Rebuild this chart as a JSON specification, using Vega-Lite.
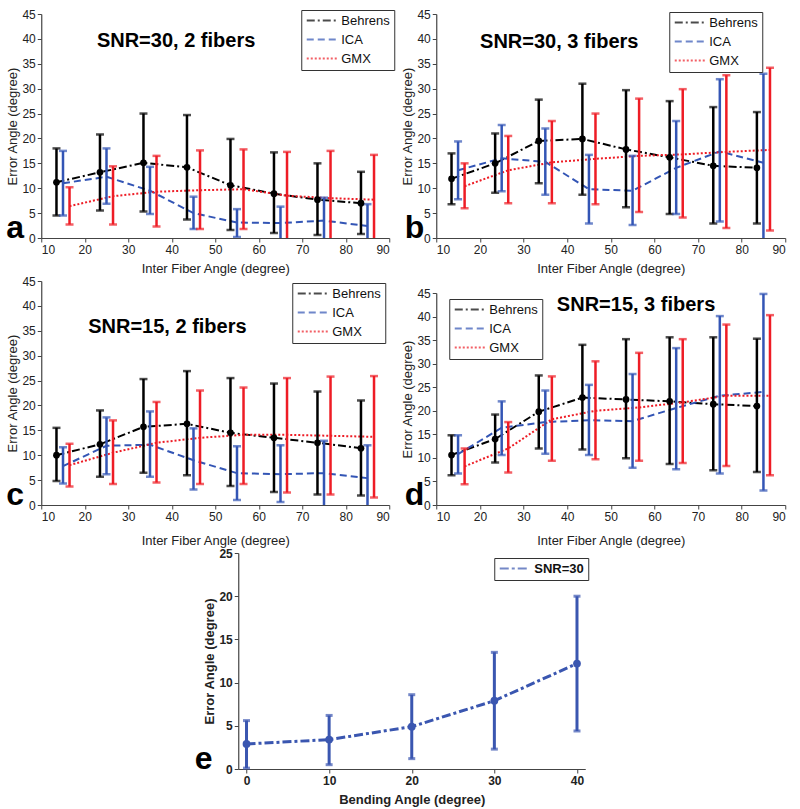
{
"$schema": "https://vega.github.io/schema/vega-lite/v6.json",
"background": "white",
"padding": {"left": 6, "top": 8, "right": 5, "bottom": 2},
"config": {
  "view": {"stroke": null},
  "font": "Liberation Sans",
  "axis": {"labelFont": "Liberation Sans", "labelFontSize": 12, "labelColor": "#222222", "titleFont": "Liberation Sans", "titleFontSize": 13, "titleFontWeight": "normal", "titleColor": "#222222", "domainColor": "#444444", "tickColor": "#444444", "tickSize": 4, "grid": false, "labelPadding": 2, "domainWidth": 1.2, "labelOverlap": false},
  "axisX": {"titlePadding": 7},
  "axisY": {"titlePadding": 2},
  "legend": {"labelFont": "Liberation Sans", "labelFontSize": 13, "labelColor": "#111111", "strokeColor": "#333333", "fillColor": "white", "padding": 4, "symbolType": "M-1,0H5", "symbolSize": 100, "symbolStrokeWidth": 2, "rowPadding": 5, "labelOffset": 23, "cornerRadius": 0}
},
"datasets": {
  "d": [
    {"p":"a","m":"Behrens","x":13.5,"y":11.2,"lo":4.5,"hi":18.0},
    {"p":"a","m":"Behrens","x":23.5,"y":13.2,"lo":5.5,"hi":20.8},
    {"p":"a","m":"Behrens","x":33.5,"y":15.1,"lo":5.3,"hi":25.0},
    {"p":"a","m":"Behrens","x":43.5,"y":14.2,"lo":3.7,"hi":24.7},
    {"p":"a","m":"Behrens","x":53.5,"y":10.6,"lo":1.6,"hi":19.9},
    {"p":"a","m":"Behrens","x":63.5,"y":8.9,"lo":1.0,"hi":17.2},
    {"p":"a","m":"Behrens","x":73.5,"y":7.7,"lo":0.6,"hi":15.0},
    {"p":"a","m":"Behrens","x":83.5,"y":7.0,"lo":0.8,"hi":13.3},
    {"p":"a","m":"ICA","x":15,"y":11.0,"lo":4.5,"hi":17.5},
    {"p":"a","m":"ICA","x":25,"y":12.3,"lo":6.9,"hi":18.0},
    {"p":"a","m":"ICA","x":35,"y":9.5,"lo":4.8,"hi":14.3},
    {"p":"a","m":"ICA","x":45,"y":5.0,"lo":1.8,"hi":8.3},
    {"p":"a","m":"ICA","x":55,"y":3.1,"lo":0.2,"hi":5.8},
    {"p":"a","m":"ICA","x":65,"y":3.0,"lo":-0.5,"hi":6.3},
    {"p":"a","m":"ICA","x":75,"y":3.5,"lo":-1.2,"hi":8.1},
    {"p":"a","m":"ICA","x":85,"y":2.4,"lo":-2.0,"hi":6.8},
    {"p":"a","m":"GMX","x":16.5,"y":6.4,"lo":2.7,"hi":10.2},
    {"p":"a","m":"GMX","x":26.5,"y":8.4,"lo":2.7,"hi":14.4},
    {"p":"a","m":"GMX","x":36.5,"y":9.3,"lo":2.3,"hi":16.5},
    {"p":"a","m":"GMX","x":46.5,"y":9.6,"lo":1.8,"hi":17.6},
    {"p":"a","m":"GMX","x":56.5,"y":9.8,"lo":1.8,"hi":17.8},
    {"p":"a","m":"GMX","x":66.5,"y":8.5,"lo":-0.3,"hi":17.3},
    {"p":"a","m":"GMX","x":76.5,"y":8.0,"lo":-1.5,"hi":17.5},
    {"p":"a","m":"GMX","x":86.5,"y":7.7,"lo":-1.3,"hi":16.7},

    {"p":"b","m":"Behrens","x":13.5,"y":11.9,"lo":6.8,"hi":17.0},
    {"p":"b","m":"Behrens","x":23.5,"y":15.0,"lo":9.1,"hi":21.0},
    {"p":"b","m":"Behrens","x":33.5,"y":19.5,"lo":11.0,"hi":27.8},
    {"p":"b","m":"Behrens","x":43.5,"y":19.9,"lo":8.7,"hi":31.0},
    {"p":"b","m":"Behrens","x":53.5,"y":17.8,"lo":6.2,"hi":29.7},
    {"p":"b","m":"Behrens","x":63.5,"y":16.2,"lo":4.8,"hi":27.5},
    {"p":"b","m":"Behrens","x":73.5,"y":14.5,"lo":2.9,"hi":26.3},
    {"p":"b","m":"Behrens","x":83.5,"y":14.1,"lo":2.9,"hi":25.3},
    {"p":"b","m":"ICA","x":15,"y":13.6,"lo":7.8,"hi":19.4},
    {"p":"b","m":"ICA","x":25,"y":16.0,"lo":9.4,"hi":22.7},
    {"p":"b","m":"ICA","x":35,"y":15.3,"lo":8.7,"hi":22.0},
    {"p":"b","m":"ICA","x":45,"y":9.8,"lo":2.9,"hi":16.7},
    {"p":"b","m":"ICA","x":55,"y":9.5,"lo":2.6,"hi":16.5},
    {"p":"b","m":"ICA","x":65,"y":14.1,"lo":4.8,"hi":23.5},
    {"p":"b","m":"ICA","x":75,"y":17.4,"lo":3.3,"hi":31.9},
    {"p":"b","m":"ICA","x":85,"y":15.1,"lo":-1.0,"hi":33.0},
    {"p":"b","m":"GMX","x":16.5,"y":10.4,"lo":6.0,"hi":15.0},
    {"p":"b","m":"GMX","x":26.5,"y":13.6,"lo":7.0,"hi":20.5},
    {"p":"b","m":"GMX","x":36.5,"y":15.2,"lo":7.0,"hi":23.5},
    {"p":"b","m":"GMX","x":46.5,"y":15.9,"lo":6.8,"hi":25.0},
    {"p":"b","m":"GMX","x":56.5,"y":16.5,"lo":5.2,"hi":28.0},
    {"p":"b","m":"GMX","x":66.5,"y":16.8,"lo":4.1,"hi":29.9},
    {"p":"b","m":"GMX","x":76.5,"y":17.3,"lo":2.0,"hi":32.7},
    {"p":"b","m":"GMX","x":86.5,"y":17.7,"lo":1.5,"hi":34.2},

    {"p":"c","m":"Behrens","x":13.5,"y":10.0,"lo":4.8,"hi":15.5},
    {"p":"c","m":"Behrens","x":23.5,"y":12.2,"lo":5.7,"hi":19.0},
    {"p":"c","m":"Behrens","x":33.5,"y":15.7,"lo":6.5,"hi":25.3},
    {"p":"c","m":"Behrens","x":43.5,"y":16.3,"lo":6.0,"hi":26.9},
    {"p":"c","m":"Behrens","x":53.5,"y":14.5,"lo":3.8,"hi":25.5},
    {"p":"c","m":"Behrens","x":63.5,"y":13.5,"lo":2.6,"hi":24.4},
    {"p":"c","m":"Behrens","x":73.5,"y":12.5,"lo":2.1,"hi":22.8},
    {"p":"c","m":"Behrens","x":83.5,"y":11.4,"lo":1.9,"hi":21.0},
    {"p":"c","m":"ICA","x":15,"y":7.8,"lo":4.3,"hi":11.6},
    {"p":"c","m":"ICA","x":25,"y":11.9,"lo":6.2,"hi":17.6},
    {"p":"c","m":"ICA","x":35,"y":12.1,"lo":5.7,"hi":18.8},
    {"p":"c","m":"ICA","x":45,"y":9.0,"lo":3.1,"hi":15.4},
    {"p":"c","m":"ICA","x":55,"y":6.4,"lo":1.0,"hi":11.8},
    {"p":"c","m":"ICA","x":65,"y":6.2,"lo":0.6,"hi":12.0},
    {"p":"c","m":"ICA","x":75,"y":6.4,"lo":-1.0,"hi":12.9},
    {"p":"c","m":"ICA","x":85,"y":5.4,"lo":-1.0,"hi":12.0},
    {"p":"c","m":"GMX","x":16.5,"y":8.0,"lo":3.7,"hi":12.3},
    {"p":"c","m":"GMX","x":26.5,"y":10.5,"lo":4.2,"hi":17.0},
    {"p":"c","m":"GMX","x":36.5,"y":12.5,"lo":4.5,"hi":20.7},
    {"p":"c","m":"GMX","x":46.5,"y":13.5,"lo":4.2,"hi":23.0},
    {"p":"c","m":"GMX","x":56.5,"y":14.1,"lo":4.2,"hi":23.6},
    {"p":"c","m":"GMX","x":66.5,"y":14.1,"lo":2.5,"hi":25.5},
    {"p":"c","m":"GMX","x":76.5,"y":13.9,"lo":2.1,"hi":25.8},
    {"p":"c","m":"GMX","x":86.5,"y":13.7,"lo":1.5,"hi":25.9},

    {"p":"d","m":"Behrens","x":13.5,"y":10.6,"lo":6.3,"hi":14.8},
    {"p":"d","m":"Behrens","x":23.5,"y":14.0,"lo":9.0,"hi":19.2},
    {"p":"d","m":"Behrens","x":33.5,"y":19.8,"lo":12.0,"hi":27.5},
    {"p":"d","m":"Behrens","x":43.5,"y":22.8,"lo":11.8,"hi":34.0},
    {"p":"d","m":"Behrens","x":53.5,"y":22.4,"lo":9.9,"hi":35.2},
    {"p":"d","m":"Behrens","x":63.5,"y":22.0,"lo":8.7,"hi":35.6},
    {"p":"d","m":"Behrens","x":73.5,"y":21.4,"lo":7.4,"hi":35.6},
    {"p":"d","m":"Behrens","x":83.5,"y":21.0,"lo":7.0,"hi":35.3},
    {"p":"d","m":"ICA","x":15,"y":10.8,"lo":6.7,"hi":14.8},
    {"p":"d","m":"ICA","x":25,"y":16.4,"lo":10.6,"hi":22.0},
    {"p":"d","m":"ICA","x":35,"y":17.6,"lo":10.9,"hi":24.3},
    {"p":"d","m":"ICA","x":45,"y":18.0,"lo":10.6,"hi":25.5},
    {"p":"d","m":"ICA","x":55,"y":17.8,"lo":7.9,"hi":27.8},
    {"p":"d","m":"ICA","x":65,"y":20.6,"lo":7.6,"hi":33.3},
    {"p":"d","m":"ICA","x":75,"y":23.2,"lo":6.7,"hi":40.1},
    {"p":"d","m":"ICA","x":85,"y":24.0,"lo":3.1,"hi":44.8},
    {"p":"d","m":"GMX","x":16.5,"y":8.2,"lo":4.4,"hi":12.0},
    {"p":"d","m":"GMX","x":26.5,"y":12.0,"lo":6.9,"hi":17.6},
    {"p":"d","m":"GMX","x":36.5,"y":18.2,"lo":9.4,"hi":27.3},
    {"p":"d","m":"GMX","x":46.5,"y":20.0,"lo":9.7,"hi":30.5},
    {"p":"d","m":"GMX","x":56.5,"y":20.7,"lo":9.4,"hi":32.3},
    {"p":"d","m":"GMX","x":66.5,"y":21.8,"lo":8.9,"hi":35.2},
    {"p":"d","m":"GMX","x":76.5,"y":23.2,"lo":8.3,"hi":38.3},
    {"p":"d","m":"GMX","x":86.5,"y":23.2,"lo":6.3,"hi":40.3},

    {"p":"e","m":"SNR=30","x":0,"y":2.9,"lo":0.1,"hi":5.6},
    {"p":"e","m":"SNR=30","x":10,"y":3.4,"lo":0.5,"hi":6.2},
    {"p":"e","m":"SNR=30","x":20,"y":4.9,"lo":1.2,"hi":8.6},
    {"p":"e","m":"SNR=30","x":30,"y":7.9,"lo":2.3,"hi":13.5},
    {"p":"e","m":"SNR=30","x":40,"y":12.2,"lo":4.4,"hi":20.0}
  ]
},
"vconcat": [
  {"hconcat": [
      {"width": 348, "height": 224,
       "layer": [
        {"data":{"name":"d"},"transform":[{"filter":"datum.p==='a'"}],"mark":{"type":"line","strokeWidth":2},
         "encoding":{"x":{"field":"x","type":"quantitative","scale":{"domain":[10,90],"nice":false,"zero":false},"axis":{"values":[10,20,30,40,50,60,70,80,90],"title":"Inter Fiber Angle (degree)"}},
          "y":{"field":"y","type":"quantitative","scale":{"domain":[0,45],"nice":false},"axis":{"values":[0,5,10,15,20,25,30,35,40,45],"tickCount":10,"labelOverlap":false,"title":"Error Angle (degree)"}},
          "color":{"field":"m","type":"nominal","scale":{"domain":["Behrens","ICA","GMX"],"range":["#000000","#3355b5","#ee1c25"]},"legend":{"title":null,"orient":"none","legendX":260,"legendY":-4}},
          "strokeDash":{"field":"m","type":"nominal","scale":{"domain":["Behrens","ICA","GMX"],"range":[[8,3,2,3],[7,4],[2,2]]},"legend":{"title":null,"orient":"none","legendX":260,"legendY":-4}}}},
        {"data":{"name":"d"},"transform":[{"filter":"datum.p==='a'"}],"mark":{"type":"rule","strokeWidth":2.5,"clip":true},
         "encoding":{"x":{"field":"x","type":"quantitative","axis":{"values":[10,20,30,40,50,60,70,80,90],"title":"Inter Fiber Angle (degree)"}},"y":{"field":"lo","type":"quantitative","axis":{"values":[0,5,10,15,20,25,30,35,40,45],"tickCount":10,"labelOverlap":false,"title":"Error Angle (degree)"}},"y2":{"field":"hi"},"color":{"field":"m","type":"nominal"}}},
        {"data":{"name":"d"},"transform":[{"filter":"datum.p==='a'"}],"mark":{"type":"tick","orient":"horizontal","size":8,"thickness":2.5},
         "encoding":{"x":{"field":"x","type":"quantitative","axis":{"values":[10,20,30,40,50,60,70,80,90],"title":"Inter Fiber Angle (degree)"}},"y":{"field":"hi","type":"quantitative","axis":{"values":[0,5,10,15,20,25,30,35,40,45],"tickCount":10,"labelOverlap":false,"title":"Error Angle (degree)"}},"color":{"field":"m","type":"nominal"}}},
        {"data":{"name":"d"},"transform":[{"filter":"datum.p==='a'"}],"mark":{"type":"tick","orient":"horizontal","size":8,"thickness":2.5,"clip":true},
         "encoding":{"x":{"field":"x","type":"quantitative","axis":{"values":[10,20,30,40,50,60,70,80,90],"title":"Inter Fiber Angle (degree)"}},"y":{"field":"lo","type":"quantitative","axis":{"values":[0,5,10,15,20,25,30,35,40,45],"tickCount":10,"labelOverlap":false,"title":"Error Angle (degree)"}},"color":{"field":"m","type":"nominal"}}},
        {"data":{"name":"d"},"transform":[{"filter":"datum.p==='a' && datum.m==='Behrens'"}],"mark":{"type":"point","filled":true,"size":45,"opacity":1},
         "encoding":{"x":{"field":"x","type":"quantitative","axis":{"values":[10,20,30,40,50,60,70,80,90],"title":"Inter Fiber Angle (degree)"}},"y":{"field":"y","type":"quantitative","axis":{"values":[0,5,10,15,20,25,30,35,40,45],"tickCount":10,"labelOverlap":false,"title":"Error Angle (degree)"}},"color":{"field":"m","type":"nominal"}}},
        {"data":{"values":[{}]},"mark":{"type":"text","text":"SNR=30, 2 fibers","fontSize":20,"fontWeight":"bold","color":"#000000"},
         "encoding":{"x":{"datum":41,"type":"quantitative","axis":{"values":[10,20,30,40,50,60,70,80,90],"title":"Inter Fiber Angle (degree)"}},"y":{"datum":39.6,"type":"quantitative","axis":{"values":[0,5,10,15,20,25,30,35,40,45],"tickCount":10,"labelOverlap":false,"title":"Error Angle (degree)"}}}},
        {"data":{"values":[{}]},"mark":{"type":"text","text":"a","fontSize":32,"fontWeight":"bold","baseline":"alphabetic","align":"center","color":"#000000"},
         "encoding":{"x":{"datum":4,"type":"quantitative","axis":{"values":[10,20,30,40,50,60,70,80,90],"title":"Inter Fiber Angle (degree)"}},"y":{"datum":0,"type":"quantitative","axis":{"values":[0,5,10,15,20,25,30,35,40,45],"tickCount":10,"labelOverlap":false,"title":"Error Angle (degree)"}}}}
       ]},
      {"width": 349, "height": 224,
       "layer": [
        {"data":{"name":"d"},"transform":[{"filter":"datum.p==='b'"}],"mark":{"type":"line","strokeWidth":2},
         "encoding":{"x":{"field":"x","type":"quantitative","scale":{"domain":[10,90],"nice":false,"zero":false},"axis":{"values":[10,20,30,40,50,60,70,80,90],"title":"Inter Fiber Angle (degree)"}},
          "y":{"field":"y","type":"quantitative","scale":{"domain":[0,45],"nice":false},"axis":{"values":[0,5,10,15,20,25,30,35,40,45],"tickCount":10,"labelOverlap":false,"title":"Error Angle (degree)"}},
          "color":{"field":"m","type":"nominal","scale":{"domain":["Behrens","ICA","GMX"],"range":["#000000","#3355b5","#ee1c25"]},"legend":{"title":null,"orient":"none","legendX":233,"legendY":-2}},
          "strokeDash":{"field":"m","type":"nominal","scale":{"domain":["Behrens","ICA","GMX"],"range":[[8,3,2,3],[7,4],[2,2]]},"legend":{"title":null,"orient":"none","legendX":233,"legendY":-2}}}},
        {"data":{"name":"d"},"transform":[{"filter":"datum.p==='b'"}],"mark":{"type":"rule","strokeWidth":2.5,"clip":true},
         "encoding":{"x":{"field":"x","type":"quantitative","axis":{"values":[10,20,30,40,50,60,70,80,90],"title":"Inter Fiber Angle (degree)"}},"y":{"field":"lo","type":"quantitative","axis":{"values":[0,5,10,15,20,25,30,35,40,45],"tickCount":10,"labelOverlap":false,"title":"Error Angle (degree)"}},"y2":{"field":"hi"},"color":{"field":"m","type":"nominal"}}},
        {"data":{"name":"d"},"transform":[{"filter":"datum.p==='b'"}],"mark":{"type":"tick","orient":"horizontal","size":8,"thickness":2.5},
         "encoding":{"x":{"field":"x","type":"quantitative","axis":{"values":[10,20,30,40,50,60,70,80,90],"title":"Inter Fiber Angle (degree)"}},"y":{"field":"hi","type":"quantitative","axis":{"values":[0,5,10,15,20,25,30,35,40,45],"tickCount":10,"labelOverlap":false,"title":"Error Angle (degree)"}},"color":{"field":"m","type":"nominal"}}},
        {"data":{"name":"d"},"transform":[{"filter":"datum.p==='b'"}],"mark":{"type":"tick","orient":"horizontal","size":8,"thickness":2.5,"clip":true},
         "encoding":{"x":{"field":"x","type":"quantitative","axis":{"values":[10,20,30,40,50,60,70,80,90],"title":"Inter Fiber Angle (degree)"}},"y":{"field":"lo","type":"quantitative","axis":{"values":[0,5,10,15,20,25,30,35,40,45],"tickCount":10,"labelOverlap":false,"title":"Error Angle (degree)"}},"color":{"field":"m","type":"nominal"}}},
        {"data":{"name":"d"},"transform":[{"filter":"datum.p==='b' && datum.m==='Behrens'"}],"mark":{"type":"point","filled":true,"size":45,"opacity":1},
         "encoding":{"x":{"field":"x","type":"quantitative","axis":{"values":[10,20,30,40,50,60,70,80,90],"title":"Inter Fiber Angle (degree)"}},"y":{"field":"y","type":"quantitative","axis":{"values":[0,5,10,15,20,25,30,35,40,45],"tickCount":10,"labelOverlap":false,"title":"Error Angle (degree)"}},"color":{"field":"m","type":"nominal"}}},
        {"data":{"values":[{}]},"mark":{"type":"text","text":"SNR=30, 3 fibers","fontSize":20,"fontWeight":"bold","color":"#000000"},
         "encoding":{"x":{"datum":38.2,"type":"quantitative","axis":{"values":[10,20,30,40,50,60,70,80,90],"title":"Inter Fiber Angle (degree)"}},"y":{"datum":39.4,"type":"quantitative","axis":{"values":[0,5,10,15,20,25,30,35,40,45],"tickCount":10,"labelOverlap":false,"title":"Error Angle (degree)"}}}},
        {"data":{"values":[{}]},"mark":{"type":"text","text":"b","fontSize":32,"fontWeight":"bold","baseline":"alphabetic","align":"center","color":"#000000"},
         "encoding":{"x":{"datum":5,"type":"quantitative","axis":{"values":[10,20,30,40,50,60,70,80,90],"title":"Inter Fiber Angle (degree)"}},"y":{"datum":0,"type":"quantitative","axis":{"values":[0,5,10,15,20,25,30,35,40,45],"tickCount":10,"labelOverlap":false,"title":"Error Angle (degree)"}}}}
       ]}
  ], "spacing": 47, "bounds": "flush",
  "resolve": {"scale": {"color": "independent", "strokeDash": "independent"}, "legend": {"color": "independent", "strokeDash": "independent"}}},
  {"hconcat": [
      {"width": 348, "height": 224,
       "layer": [
        {"data":{"name":"d"},"transform":[{"filter":"datum.p==='c'"}],"mark":{"type":"line","strokeWidth":2},
         "encoding":{"x":{"field":"x","type":"quantitative","scale":{"domain":[10,90],"nice":false,"zero":false},"axis":{"values":[10,20,30,40,50,60,70,80,90],"title":"Inter Fiber Angle (degree)","titlePadding":12}},
          "y":{"field":"y","type":"quantitative","scale":{"domain":[0,45],"nice":false},"axis":{"values":[0,5,10,15,20,25,30,35,40,45],"tickCount":10,"labelOverlap":false,"title":"Error Angle (degree)"}},
          "color":{"field":"m","type":"nominal","scale":{"domain":["Behrens","ICA","GMX"],"range":["#000000","#3355b5","#ee1c25"]},"legend":{"title":null,"orient":"none","legendX":251,"legendY":2}},
          "strokeDash":{"field":"m","type":"nominal","scale":{"domain":["Behrens","ICA","GMX"],"range":[[8,3,2,3],[7,4],[2,2]]},"legend":{"title":null,"orient":"none","legendX":251,"legendY":2}}}},
        {"data":{"name":"d"},"transform":[{"filter":"datum.p==='c'"}],"mark":{"type":"rule","strokeWidth":2.5,"clip":true},
         "encoding":{"x":{"field":"x","type":"quantitative","axis":{"values":[10,20,30,40,50,60,70,80,90],"title":"Inter Fiber Angle (degree)","titlePadding":12}},"y":{"field":"lo","type":"quantitative","axis":{"values":[0,5,10,15,20,25,30,35,40,45],"tickCount":10,"labelOverlap":false,"title":"Error Angle (degree)"}},"y2":{"field":"hi"},"color":{"field":"m","type":"nominal"}}},
        {"data":{"name":"d"},"transform":[{"filter":"datum.p==='c'"}],"mark":{"type":"tick","orient":"horizontal","size":8,"thickness":2.5},
         "encoding":{"x":{"field":"x","type":"quantitative","axis":{"values":[10,20,30,40,50,60,70,80,90],"title":"Inter Fiber Angle (degree)","titlePadding":12}},"y":{"field":"hi","type":"quantitative","axis":{"values":[0,5,10,15,20,25,30,35,40,45],"tickCount":10,"labelOverlap":false,"title":"Error Angle (degree)"}},"color":{"field":"m","type":"nominal"}}},
        {"data":{"name":"d"},"transform":[{"filter":"datum.p==='c'"}],"mark":{"type":"tick","orient":"horizontal","size":8,"thickness":2.5,"clip":true},
         "encoding":{"x":{"field":"x","type":"quantitative","axis":{"values":[10,20,30,40,50,60,70,80,90],"title":"Inter Fiber Angle (degree)","titlePadding":12}},"y":{"field":"lo","type":"quantitative","axis":{"values":[0,5,10,15,20,25,30,35,40,45],"tickCount":10,"labelOverlap":false,"title":"Error Angle (degree)"}},"color":{"field":"m","type":"nominal"}}},
        {"data":{"name":"d"},"transform":[{"filter":"datum.p==='c' && datum.m==='Behrens'"}],"mark":{"type":"point","filled":true,"size":45,"opacity":1},
         "encoding":{"x":{"field":"x","type":"quantitative","axis":{"values":[10,20,30,40,50,60,70,80,90],"title":"Inter Fiber Angle (degree)","titlePadding":12}},"y":{"field":"y","type":"quantitative","axis":{"values":[0,5,10,15,20,25,30,35,40,45],"tickCount":10,"labelOverlap":false,"title":"Error Angle (degree)"}},"color":{"field":"m","type":"nominal"}}},
        {"data":{"values":[{}]},"mark":{"type":"text","text":"SNR=15, 2 fibers","fontSize":20,"fontWeight":"bold","color":"#000000"},
         "encoding":{"x":{"datum":39,"type":"quantitative","axis":{"values":[10,20,30,40,50,60,70,80,90],"title":"Inter Fiber Angle (degree)","titlePadding":12}},"y":{"datum":35.8,"type":"quantitative","axis":{"values":[0,5,10,15,20,25,30,35,40,45],"tickCount":10,"labelOverlap":false,"title":"Error Angle (degree)"}}}},
        {"data":{"values":[{}]},"mark":{"type":"text","text":"c","fontSize":32,"fontWeight":"bold","baseline":"alphabetic","align":"center","color":"#000000"},
         "encoding":{"x":{"datum":4,"type":"quantitative","axis":{"values":[10,20,30,40,50,60,70,80,90],"title":"Inter Fiber Angle (degree)","titlePadding":12}},"y":{"datum":0,"type":"quantitative","axis":{"values":[0,5,10,15,20,25,30,35,40,45],"tickCount":10,"labelOverlap":false,"title":"Error Angle (degree)"}}}}
       ]},
      {"width": 349, "height": 224,
       "layer": [
        {"data":{"name":"d"},"transform":[{"filter":"datum.p==='d'"}],"mark":{"type":"line","strokeWidth":2},
         "encoding":{"x":{"field":"x","type":"quantitative","scale":{"domain":[10,90],"nice":false,"zero":false},"axis":{"values":[10,20,30,40,50,60,70,80,90],"title":"Inter Fiber Angle (degree)","titlePadding":12}},
          "y":{"field":"y","type":"quantitative","scale":{"domain":[0,45],"nice":false,"range":[224,12]},"axis":{"values":[0,5,10,15,20,25,30,35,40,45],"tickCount":10,"labelOverlap":false,"title":"Error Angle (degree)"}},
          "color":{"field":"m","type":"nominal","scale":{"domain":["Behrens","ICA","GMX"],"range":["#000000","#3355b5","#ee1c25"]},"legend":{"title":null,"orient":"none","legendX":13,"legendY":18}},
          "strokeDash":{"field":"m","type":"nominal","scale":{"domain":["Behrens","ICA","GMX"],"range":[[8,3,2,3],[7,4],[2,2]]},"legend":{"title":null,"orient":"none","legendX":13,"legendY":18}}}},
        {"data":{"name":"d"},"transform":[{"filter":"datum.p==='d'"}],"mark":{"type":"rule","strokeWidth":2.5,"clip":true},
         "encoding":{"x":{"field":"x","type":"quantitative","axis":{"values":[10,20,30,40,50,60,70,80,90],"title":"Inter Fiber Angle (degree)","titlePadding":12}},"y":{"field":"lo","type":"quantitative","axis":{"values":[0,5,10,15,20,25,30,35,40,45],"tickCount":10,"labelOverlap":false,"title":"Error Angle (degree)"}},"y2":{"field":"hi"},"color":{"field":"m","type":"nominal"}}},
        {"data":{"name":"d"},"transform":[{"filter":"datum.p==='d'"}],"mark":{"type":"tick","orient":"horizontal","size":8,"thickness":2.5},
         "encoding":{"x":{"field":"x","type":"quantitative","axis":{"values":[10,20,30,40,50,60,70,80,90],"title":"Inter Fiber Angle (degree)","titlePadding":12}},"y":{"field":"hi","type":"quantitative","axis":{"values":[0,5,10,15,20,25,30,35,40,45],"tickCount":10,"labelOverlap":false,"title":"Error Angle (degree)"}},"color":{"field":"m","type":"nominal"}}},
        {"data":{"name":"d"},"transform":[{"filter":"datum.p==='d'"}],"mark":{"type":"tick","orient":"horizontal","size":8,"thickness":2.5,"clip":true},
         "encoding":{"x":{"field":"x","type":"quantitative","axis":{"values":[10,20,30,40,50,60,70,80,90],"title":"Inter Fiber Angle (degree)","titlePadding":12}},"y":{"field":"lo","type":"quantitative","axis":{"values":[0,5,10,15,20,25,30,35,40,45],"tickCount":10,"labelOverlap":false,"title":"Error Angle (degree)"}},"color":{"field":"m","type":"nominal"}}},
        {"data":{"name":"d"},"transform":[{"filter":"datum.p==='d' && datum.m==='Behrens'"}],"mark":{"type":"point","filled":true,"size":45,"opacity":1},
         "encoding":{"x":{"field":"x","type":"quantitative","axis":{"values":[10,20,30,40,50,60,70,80,90],"title":"Inter Fiber Angle (degree)","titlePadding":12}},"y":{"field":"y","type":"quantitative","axis":{"values":[0,5,10,15,20,25,30,35,40,45],"tickCount":10,"labelOverlap":false,"title":"Error Angle (degree)"}},"color":{"field":"m","type":"nominal"}}},
        {"data":{"values":[{}]},"mark":{"type":"text","text":"SNR=15, 3 fibers","fontSize":20,"fontWeight":"bold","color":"#000000"},
         "encoding":{"x":{"datum":55.8,"type":"quantitative","axis":{"values":[10,20,30,40,50,60,70,80,90],"title":"Inter Fiber Angle (degree)","titlePadding":12}},"y":{"datum":42.5,"type":"quantitative","axis":{"values":[0,5,10,15,20,25,30,35,40,45],"tickCount":10,"labelOverlap":false,"title":"Error Angle (degree)"}}}},
        {"data":{"values":[{}]},"mark":{"type":"text","text":"d","fontSize":32,"fontWeight":"bold","baseline":"alphabetic","align":"center","color":"#000000"},
         "encoding":{"x":{"datum":5,"type":"quantitative","axis":{"values":[10,20,30,40,50,60,70,80,90],"title":"Inter Fiber Angle (degree)","titlePadding":12}},"y":{"datum":0,"type":"quantitative","axis":{"values":[0,5,10,15,20,25,30,35,40,45],"tickCount":10,"labelOverlap":false,"title":"Error Angle (degree)"}}}}
       ]}
  ], "spacing": 47, "bounds": "flush",
  "resolve": {"scale": {"color": "independent", "strokeDash": "independent"}, "legend": {"color": "independent", "strokeDash": "independent"}}},
  {"width": 347, "height": 216,
   "layer": [
    {"data":{"name":"d"},"transform":[{"filter":"datum.p==='e'"}],"mark":{"type":"line","strokeWidth":3},
     "encoding":{"x":{"field":"x","type":"quantitative","scale":{"domain":[-1,41],"nice":false,"zero":false},"axis":{"values":[0,10,20,30,40],"title":"Bending Angle (degree)","labelFontWeight":"bold","titleFontWeight":"bold"}},
      "y":{"field":"y","type":"quantitative","scale":{"domain":[0,25],"nice":false},"axis":{"values":[0,5,10,15,20,25],"title":"Error Angle (degree)","labelFontWeight":"bold","titleFontWeight":"bold"}},
      "color":{"field":"m","type":"nominal","scale":{"domain":["SNR=30"],"range":["#3a56b0"]},"legend":{"title":null,"orient":"none","legendX":256,"legendY":5,"labelFontWeight":"bold"}},
      "strokeDash":{"field":"m","type":"nominal","scale":{"domain":["SNR=30"],"range":[[9,3,3,3]]},"legend":{"title":null,"orient":"none","legendX":256,"legendY":5,"labelFontWeight":"bold"}}}},
    {"data":{"name":"d"},"transform":[{"filter":"datum.p==='e'"}],"mark":{"type":"rule","strokeWidth":3,"clip":true},
     "encoding":{"x":{"field":"x","type":"quantitative","axis":{"values":[0,10,20,30,40],"title":"Bending Angle (degree)","labelFontWeight":"bold","titleFontWeight":"bold"}},"y":{"field":"lo","type":"quantitative","axis":{"values":[0,5,10,15,20,25],"title":"Error Angle (degree)","labelFontWeight":"bold","titleFontWeight":"bold"}},"y2":{"field":"hi"},"color":{"field":"m","type":"nominal"}}},
    {"data":{"name":"d"},"transform":[{"filter":"datum.p==='e'"}],"mark":{"type":"tick","orient":"horizontal","size":7,"thickness":3},
     "encoding":{"x":{"field":"x","type":"quantitative","axis":{"values":[0,10,20,30,40],"title":"Bending Angle (degree)","labelFontWeight":"bold","titleFontWeight":"bold"}},"y":{"field":"hi","type":"quantitative","axis":{"values":[0,5,10,15,20,25],"title":"Error Angle (degree)","labelFontWeight":"bold","titleFontWeight":"bold"}},"color":{"field":"m","type":"nominal"}}},
    {"data":{"name":"d"},"transform":[{"filter":"datum.p==='e'"}],"mark":{"type":"tick","orient":"horizontal","size":7,"thickness":3},
     "encoding":{"x":{"field":"x","type":"quantitative","axis":{"values":[0,10,20,30,40],"title":"Bending Angle (degree)","labelFontWeight":"bold","titleFontWeight":"bold"}},"y":{"field":"lo","type":"quantitative","axis":{"values":[0,5,10,15,20,25],"title":"Error Angle (degree)","labelFontWeight":"bold","titleFontWeight":"bold"}},"color":{"field":"m","type":"nominal"}}},
    {"data":{"name":"d"},"transform":[{"filter":"datum.p==='e'"}],"mark":{"type":"point","filled":true,"size":60,"opacity":1},
     "encoding":{"x":{"field":"x","type":"quantitative","axis":{"values":[0,10,20,30,40],"title":"Bending Angle (degree)","labelFontWeight":"bold","titleFontWeight":"bold"}},"y":{"field":"y","type":"quantitative","axis":{"values":[0,5,10,15,20,25],"title":"Error Angle (degree)","labelFontWeight":"bold","titleFontWeight":"bold"}},"color":{"field":"m","type":"nominal"}}},
    {"data":{"values":[{}]},"mark":{"type":"text","text":"e","fontSize":32,"fontWeight":"bold","baseline":"alphabetic","align":"center","color":"#000000"},
     "encoding":{"x":{"datum":-5.2,"type":"quantitative","axis":{"values":[0,10,20,30,40],"title":"Bending Angle (degree)","labelFontWeight":"bold","titleFontWeight":"bold"}},"y":{"datum":0,"type":"quantitative","axis":{"values":[0,5,10,15,20,25],"title":"Error Angle (degree)","labelFontWeight":"bold","titleFontWeight":"bold"}}}}
   ]}
],
"spacing": 0, "center": true,
"resolve": {"scale": {"color": "independent", "strokeDash": "independent"}, "legend": {"color": "independent", "strokeDash": "independent"}}
}
